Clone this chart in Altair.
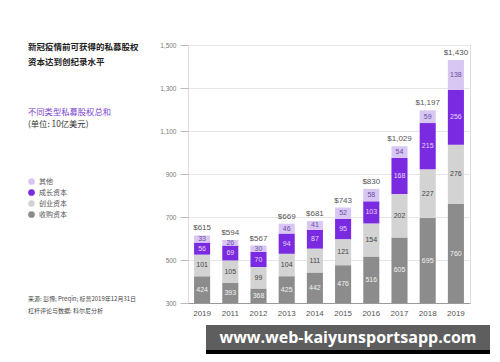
import altair as alt
import pandas as pd

years = ["2010", "2011", "2012", "2013", "2014", "2015", "2016", "2017", "2018", "2019"]
buyout = [424, 393, 368, 425, 442, 476, 516, 605, 695, 760]
venture = [101, 105, 99, 104, 111, 121, 154, 202, 227, 276]
growth = [56, 69, 70, 94, 87, 95, 103, 168, 215, 256]
other = [33, 26, 30, 46, 41, 52, 58, 54, 59, 138]
totals = [615, 594, 567, 669, 681, 743, 830, 1029, 1197, 1430]

series_names = ["收购资本", "创业资本", "成长资本", "其他"]
series_vals = [buyout, venture, growth, other]
colors = {"其他": "#d8c6f3", "成长资本": "#7a2ae0", "创业资本": "#d3d3d3", "收购资本": "#8c8c8c"}
label_colors = {"其他": "#6b4fa0", "成长资本": "#e6d8ff", "创业资本": "#444444", "收购资本": "#f2f2f2"}
AXMIN = 300

rows = []
for i, y in enumerate(years):
    base = 0
    for name, vals in zip(series_names, series_vals):
        v = vals[i]
        start, end = base, base + v
        rows.append({"year": y, "series": name, "value": v, "start": start, "end": end,
                     "mid": (max(start, AXMIN) + end) / 2, "lc": label_colors[name]})
        base = end
df = pd.DataFrame(rows)
tot = pd.DataFrame({"year": years, "total": totals,
                    "label": ["$" + format(t, ",") for t in totals]})

FONT = "Noto Sans CJK SC"
xenc = alt.X("year:N", title=None, sort=years,
             scale=alt.Scale(paddingInner=0.43, paddingOuter=0.215),
             axis=alt.Axis(labelExpr="datum.value == '2010' ? '2019' : datum.value",
                           labelAngle=0, labelFontSize=8, labelColor="#555", ticks=False,
                           domainColor="#9a9a9a", labelPadding=6, labelFont="Liberation Sans"))
yscale = alt.Scale(domain=[AXMIN, 1500], nice=False, zero=False)

bars = alt.Chart(df).mark_bar(clip=True).encode(
    x=xenc,
    y=alt.Y("start:Q", scale=yscale, title=None,
            axis=alt.Axis(values=[300, 500, 700, 900, 1100, 1300, 1500],
                          labelExpr="format(datum.value, ',.0f')",
                          labelFontSize=6.5, labelColor="#777", tickColor="#bbb", tickSize=8,
                          gridColor="#e6e6e6", domain=False, labelPadding=4,
                          labelFont="Liberation Sans")),
    y2="end:Q",
    color=alt.Color("series:N",
                    scale=alt.Scale(domain=["其他", "成长资本", "创业资本", "收购资本"],
                                    range=[colors[k] for k in ["其他", "成长资本", "创业资本", "收购资本"]]),
                    legend=alt.Legend(title=None, orient="none", legendX=-160, legendY=133,
                                      symbolType="circle", symbolSize=45, labelFontSize=7,
                                      labelColor="#555", rowPadding=3, labelFont=FONT,
                                      symbolStrokeWidth=0)),
)

seg_labels = alt.Chart(df).mark_text(fontSize=7, font="Liberation Sans").encode(
    x=alt.X("year:N", sort=years),
    y=alt.Y("mid:Q", scale=yscale),
    text="value:Q",
    color=alt.Color("lc:N", scale=None),
)

tot_labels = alt.Chart(tot).mark_text(fontSize=8, dy=-7, color="#555", font="Liberation Sans").encode(
    x=alt.X("year:N", sort=years),
    y=alt.Y("total:Q", scale=yscale),
    text="label:N",
)

texts = pd.DataFrame({
    "t": ["新冠疫情前可获得的私募股权", "资本达到创纪录水平", "不同类型私募股权总和", "(单位: 10亿美元)",
          "来源: 彭博; Preqin; 标普2019年12月31日", "杠杆评论与数据: 科尔尼分析"],
    "px": [-160] * 6,
    "py": [2, 17, 68, 80, 254, 266],
    "fs": [8.5, 8.5, 8.3, 8.3, 6, 6],
    "fw": ["bold", "bold", "normal", "normal", "normal", "normal"],
    "c": ["#222222", "#222222", "#7b3fd3", "#333333", "#444444", "#444444"],
})
side = []
for _, r in texts.iterrows():
    side.append(alt.Chart(pd.DataFrame({"t": [r.t]})).mark_text(
        align="left", baseline="middle", fontSize=r.fs, fontWeight=r.fw, color=r.c, font=FONT
    ).encode(x=alt.value(r.px), y=alt.value(r.py), text="t:N"))

wm_box = alt.Chart(pd.DataFrame({"a": [1]})).mark_rect(color="#5e5e5e").encode(
    x=alt.value(18), x2=alt.value(302), y=alt.value(280), y2=alt.value(305))
wm_strip = alt.Chart(pd.DataFrame({"a": [1]})).mark_rect(color="#000000").encode(
    x=alt.value(18), x2=alt.value(302), y=alt.value(305), y2=alt.value(309))
wm_text = alt.Chart(pd.DataFrame({"t": ["www.web-kaiyunsportsapp.com"]})).mark_text(
    fontSize=16, fontWeight="bold", color="#ffffff", font="Open Sans", align="center", baseline="middle"
).encode(x=alt.value(160), y=alt.value(293), text="t:N")

chart = alt.layer(bars, seg_labels, tot_labels, *side, wm_box, wm_strip, wm_text).properties(
    width=282, height=258,
    autosize=alt.AutoSizeParams(type="none"),
    padding={"left": 180, "top": 37, "right": 22, "bottom": 51},
).configure_view(stroke=None).configure(background="#ffffff")

chart.save("out.html", embed_options={"renderer": "svg", "actions": False})
